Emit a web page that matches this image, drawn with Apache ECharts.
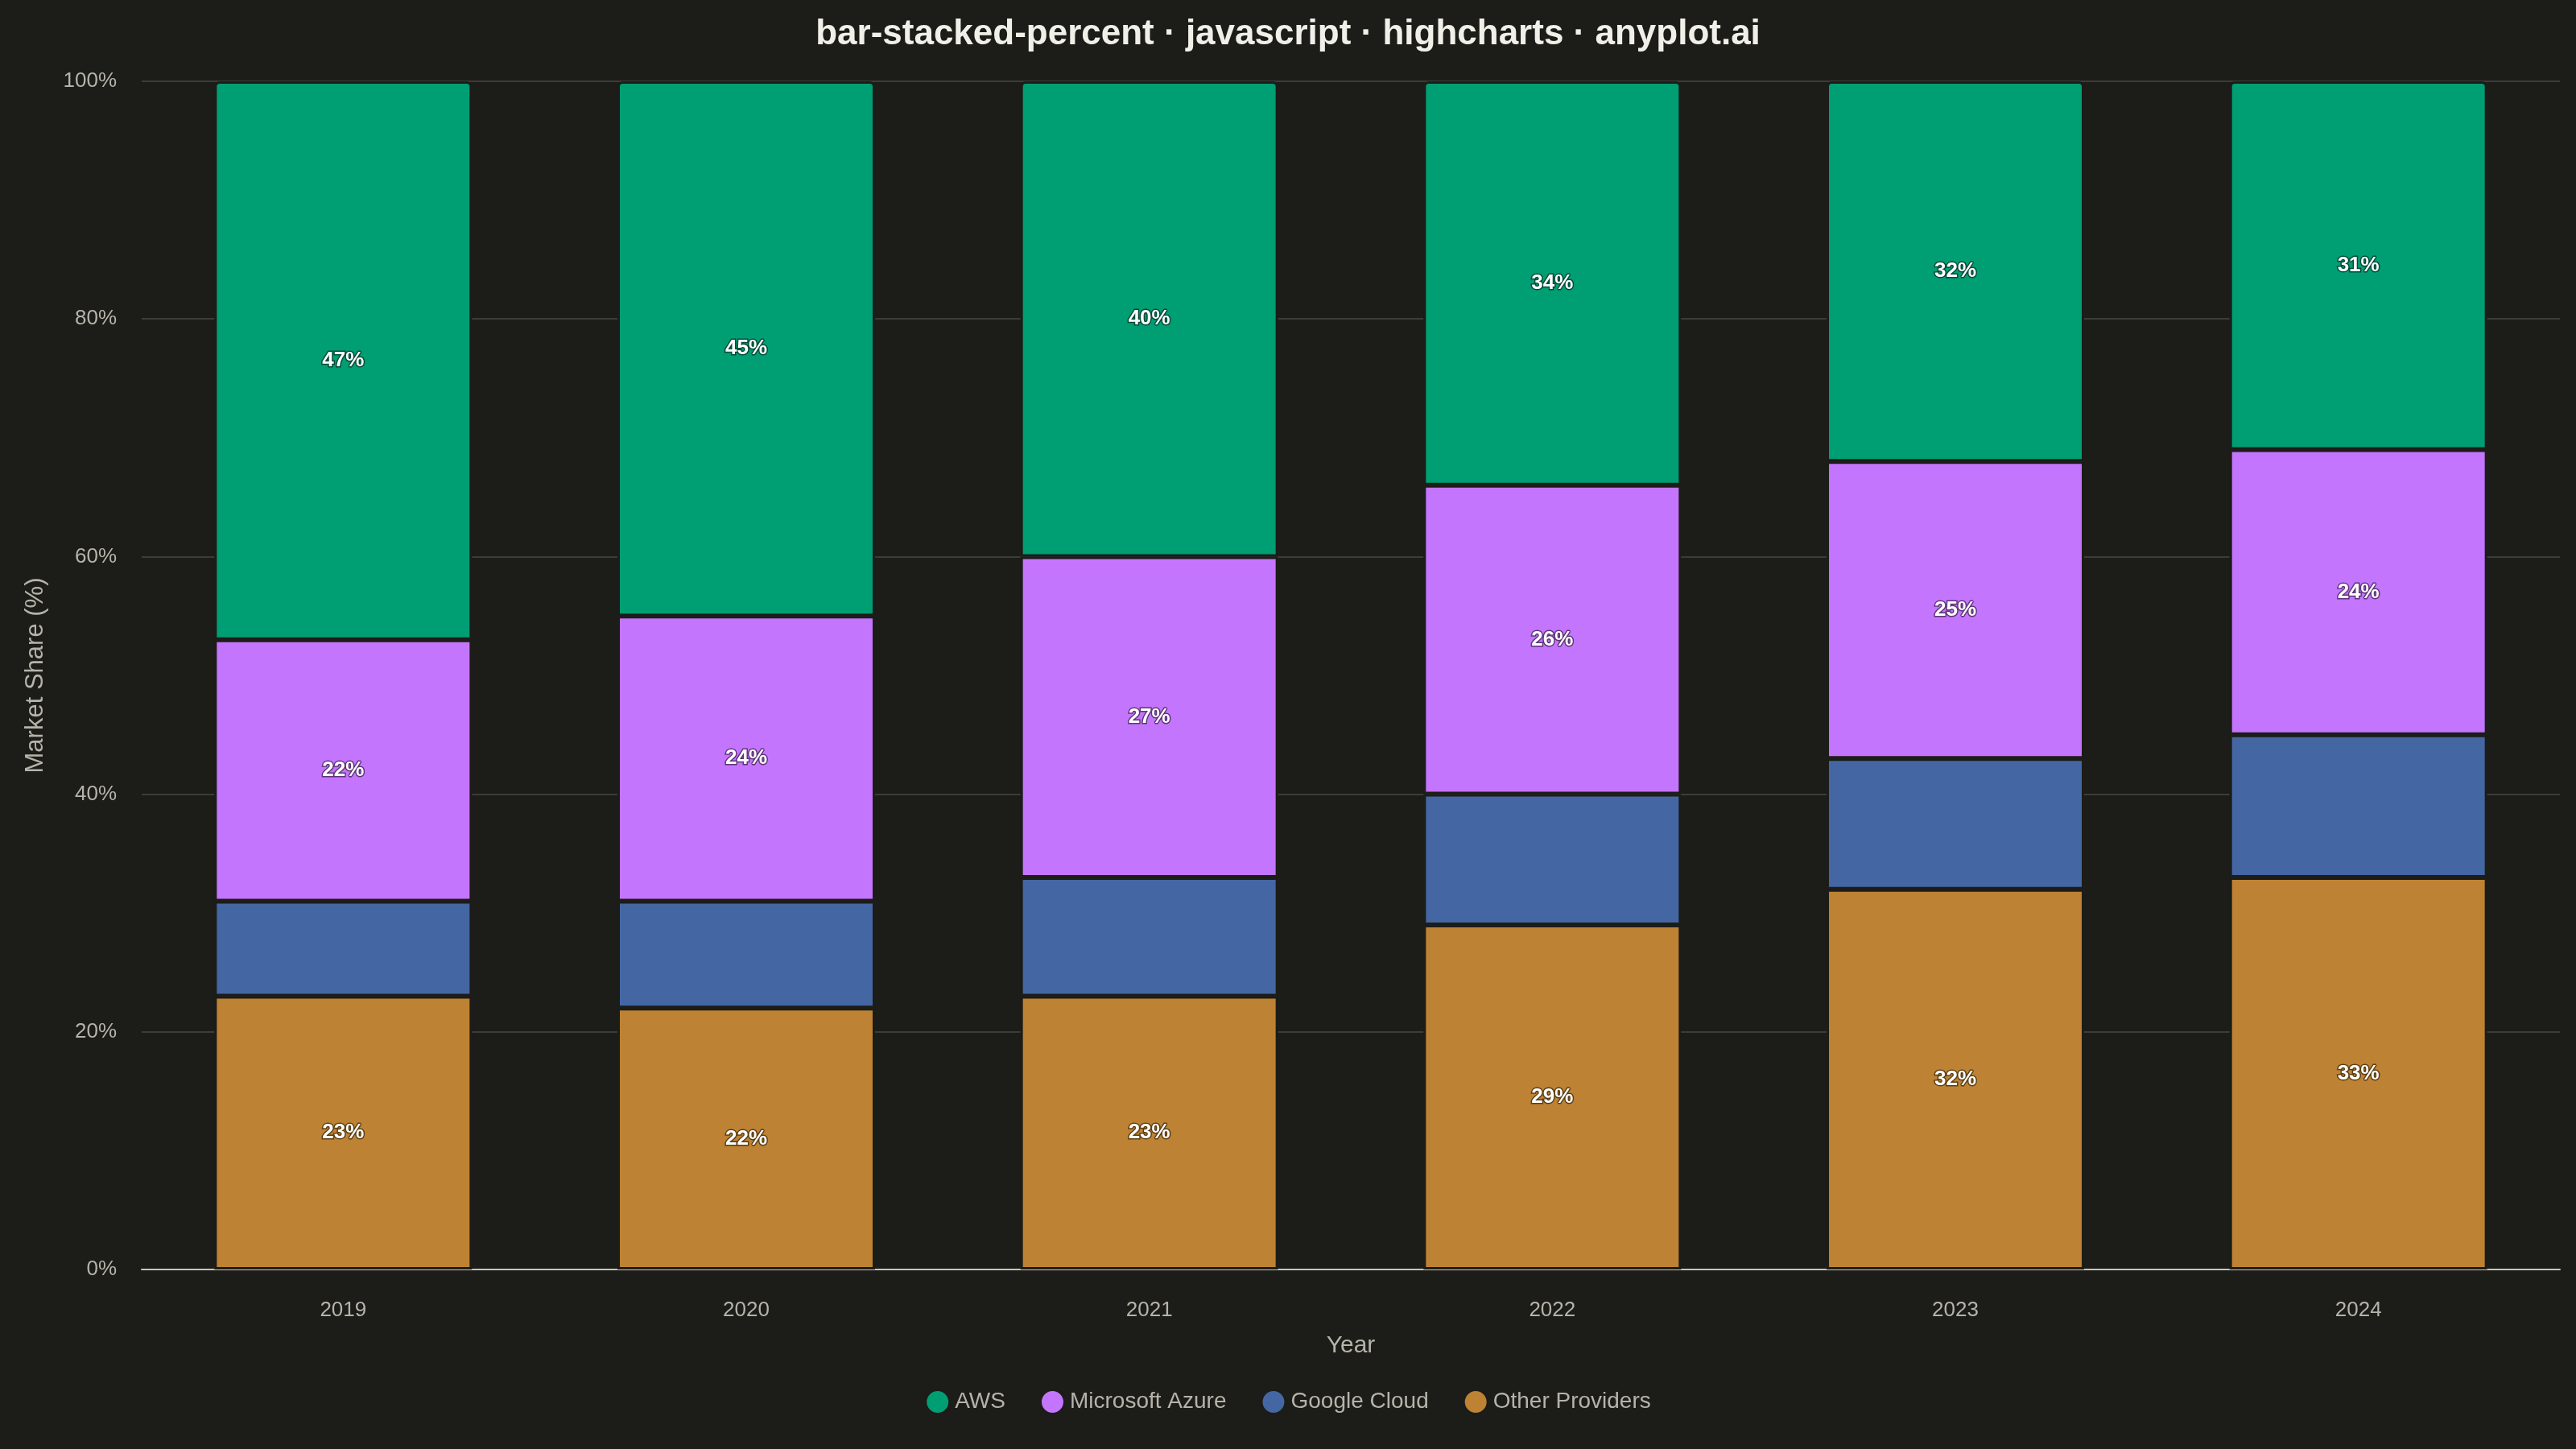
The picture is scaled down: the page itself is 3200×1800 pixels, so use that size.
<!DOCTYPE html>
<html>
<head>
<meta charset="utf-8">
<title>bar-stacked-percent</title>
<script src="https://cdn.jsdelivr.net/npm/echarts@6/dist/echarts.min.js"></script>
<style>
  html, body { margin: 0; padding: 0; background: #1c1c18; }
  #chart1 { width: 3200px; height: 1800px; }
</style>
</head>
<body>
<div id="chart1"></div>
<script>
let option;
let chart1;

const years = ['2019', '2020', '2021', '2022', '2023', '2024'];
const aws = [47, 45, 40, 34, 32, 31];
const azure = [22, 24, 27, 26, 25, 24];
const google = [8, 9, 10, 11, 11, 12];
const others = [23, 22, 23, 29, 32, 33];
const yTicks = [0, 20, 40, 60, 80, 100];

const font = '"Liberation Sans", Arial, sans-serif';
const bg = '#1c1c18';
const muted = '#b5b3aa';

const makeLabel = (outline) => {
    return {
        show: true,
        position: 'inside',
        formatter: '{c}%',
        fontFamily: font,
        fontSize: 26,
        fontWeight: 'bold',
        color: '#ffffff',
        textBorderColor: outline,
        textBorderWidth: 3
    };
}

const getOptionChart1 = () =>{
    return {
        backgroundColor: bg,
        animation: false,
        title: {
            text: 'bar-stacked-percent · javascript · highcharts · anyplot.ai',
            left: 'center',
            top: 16,
            textStyle: {
                fontFamily: font,
                fontSize: 44,
                fontWeight: 'bold',
                color: '#f0efe8'
            }
        },
        legend: {
            data: ['AWS', 'Microsoft Azure', 'Google Cloud', 'Other Providers'],
            left: 'center',
            top: 1721,
            icon: 'circle',
            itemWidth: 29,
            itemHeight: 29,
            itemGap: 43,
            textStyle: {
                fontFamily: font,
                fontSize: 28,
                color: muted,
                padding: [0, 0, 0, 2]
            }
        },
        grid: {
            left: 176,
            right: 20,
            top: 101,
            bottom: 223
        },
        xAxis: {
            type: 'category',
            data: years,
            name: 'Year',
            nameLocation: 'middle',
            nameGap: 80,
            nameTextStyle: { fontFamily: font, fontSize: 30, color: muted },
            axisLine: { lineStyle: { color: '#c8c6bd', width: 2 } },
            axisTick: { show: false },
            axisLabel: { fontFamily: font, fontSize: 26, color: muted, margin: 38 }
        },
        yAxis: {
            type: 'value',
            min: yTicks[0],
            max: yTicks[yTicks.length - 1],
            interval: yTicks[1] - yTicks[0],
            name: 'Market Share (%)',
            nameLocation: 'middle',
            nameGap: 116,
            nameTextStyle: { fontFamily: font, fontSize: 31, color: muted },
            axisLine: { show: false },
            axisTick: { show: false },
            axisLabel: { fontFamily: font, fontSize: 26, color: muted, margin: 31, formatter: '{value}%' },
            splitLine: { lineStyle: { color: '#3c3c38', width: 2 } }
        },
        series: [
            {
                name: 'Other Providers',
                type: 'bar',
                stack: 'share',
                data: others,
                barWidth: 320,
                itemStyle: { color: '#bd8233', borderColor: bg, borderWidth: 3 },
                label: makeLabel('#5c3d12')
            },
            {
                name: 'Google Cloud',
                type: 'bar',
                stack: 'share',
                data: google,
                barWidth: 320,
                itemStyle: { color: '#4467a3', borderColor: bg, borderWidth: 3 },
                label: { show: false }
            },
            {
                name: 'Microsoft Azure',
                type: 'bar',
                stack: 'share',
                data: azure,
                barWidth: 320,
                itemStyle: { color: '#c475fd', borderColor: bg, borderWidth: 3 },
                label: makeLabel('#5e3479')
            },
            {
                name: 'AWS',
                type: 'bar',
                stack: 'share',
                data: aws,
                barWidth: 320,
                itemStyle: { color: '#009e73', borderColor: bg, borderWidth: 3, borderRadius: [5, 5, 0, 0] },
                label: makeLabel('#004a36')
            }
        ]
    };
}

const initCharts =()=>{
    chart1 = echarts.init(document.getElementById("chart1"));
    option = getOptionChart1();
    chart1.setOption(option);
}
document.addEventListener('DOMContentLoaded', function () {
    initCharts();
});

window.addEventListener('resize', function () {
    chart1.resize();
})
</script>
</body>
</html>
